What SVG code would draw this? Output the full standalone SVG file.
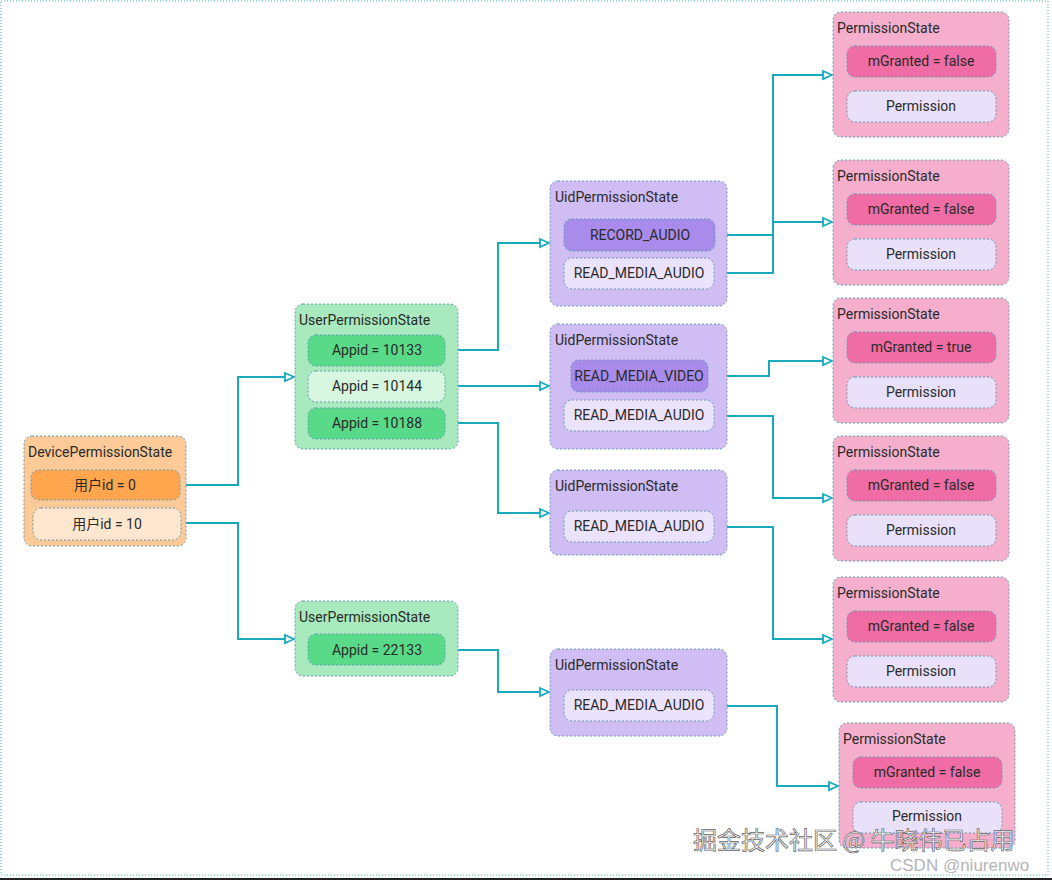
<svg xmlns="http://www.w3.org/2000/svg" width="1052" height="880" viewBox="0 0 1052 880">
<defs>
<style>
text{font-family:Roboto,"Liberation Sans","Noto Sans CJK SC",sans-serif;font-size:14px;fill:#2a2a2a}
.t{text-anchor:start}
.c{text-anchor:middle}
.bx{stroke:#5f9ab4;stroke-width:1;stroke-dasharray:2 2}
.dev{fill:#fdca98}.devA{fill:#ffa64e}.devB{fill:#ffe7cf}
.usr{fill:#a8e9bd}.usrA{fill:#58da88}.usrB{fill:#d6f6e0}
.uid{fill:#cfbdf3}.uidA{fill:#a88bea}.uidB{fill:#ebe3fb}
.prm{fill:#f5afcc}.prmA{fill:#ef6ca4}.prmB{fill:#e8e1f9}
.ln{fill:none;stroke:#17aabf;stroke-width:2}
</style>
<marker id="ar" markerWidth="12" markerHeight="12" refX="10" refY="5" orient="auto" markerUnits="userSpaceOnUse" viewBox="0 0 12 10">
<path d="M1,1 L10,5 L1,9 Z" fill="#fff" stroke="#17aabf" stroke-width="1.8"/>
</marker>
</defs>
<rect x="0" y="0" width="1052" height="880" fill="#fff"/>
<rect x="1" y="1" width="1047" height="874" fill="none" stroke="#3bb0b8" stroke-width="1" stroke-dasharray="1 2"/>
<line x1="0" y1="879" x2="1052" y2="879" stroke="#222" stroke-width="2"/>

<g id="connectors">
<path class="ln" d="M181,485 H238 V377 H294" marker-end="url(#ar)"/>
<path class="ln" d="M181,523 H238 V639 H294" marker-end="url(#ar)"/>
<path class="ln" d="M445,350 H498 V243 H549" marker-end="url(#ar)"/>
<path class="ln" d="M445,386 H549" marker-end="url(#ar)"/>
<path class="ln" d="M445,423 H498 V513 H549" marker-end="url(#ar)"/>
<path class="ln" d="M445,650 H498 V692 H549" marker-end="url(#ar)"/>
<path class="ln" d="M715,235 H773 V75 H832" marker-end="url(#ar)"/>
<path class="ln" d="M714,273 H773 V222 H832" marker-end="url(#ar)"/>
<path class="ln" d="M708,376 H769 V361 H832" marker-end="url(#ar)"/>
<path class="ln" d="M714,416 H773 V498 H832" marker-end="url(#ar)"/>
<path class="ln" d="M714,527 H773 V639 H832" marker-end="url(#ar)"/>
<path class="ln" d="M714,706 H777 V786 H838" marker-end="url(#ar)"/>
</g>

<g id="device">
<rect class="dev bx" x="24" y="436" width="162" height="110" rx="8"/>
<text class="t" x="28" y="457">DevicePermissionState</text>
<rect class="devA bx" x="31" y="470" width="149" height="30" rx="8"/>
<text class="c" x="105" y="490">用户id = 0</text>
<rect class="devB bx" x="33" y="508" width="148" height="32" rx="8"/>
<text class="c" x="107" y="529">用户id = 10</text>
</g>

<g id="user1">
<rect class="usr bx" x="295" y="304" width="163" height="145" rx="8"/>
<text class="t" x="299" y="325">UserPermissionState</text>
<rect class="usrA bx" x="308" y="335" width="137" height="31" rx="8"/>
<text class="c" x="377" y="355">Appid = 10133</text>
<rect class="usrB bx" x="308" y="371" width="137" height="31" rx="8"/>
<text class="c" x="377" y="391">Appid = 10144</text>
<rect class="usrA bx" x="308" y="408" width="137" height="31" rx="8"/>
<text class="c" x="377" y="428">Appid = 10188</text>
</g>

<g id="user2">
<rect class="usr bx" x="295" y="601" width="163" height="75" rx="8"/>
<text class="t" x="299" y="622">UserPermissionState</text>
<rect class="usrA bx" x="308" y="634" width="137" height="31" rx="8"/>
<text class="c" x="377" y="655">Appid = 22133</text>
</g>

<g id="uid1">
<rect class="uid bx" x="550" y="181" width="177" height="125" rx="8"/>
<text class="t" x="555" y="202">UidPermissionState</text>
<rect class="uidA bx" x="564" y="219" width="151" height="32" rx="8"/>
<text class="c" x="640" y="240">RECORD_AUDIO</text>
<rect class="uidB bx" x="564" y="258" width="150" height="31" rx="8"/>
<text class="c" x="639" y="278">READ_MEDIA_AUDIO</text>
</g>

<g id="uid2">
<rect class="uid bx" x="550" y="324" width="177" height="125" rx="8"/>
<text class="t" x="555" y="345">UidPermissionState</text>
<rect class="uidA bx" x="571" y="360" width="137" height="32" rx="8"/>
<text class="c" x="639" y="381">READ_MEDIA_VIDEO</text>
<rect class="uidB bx" x="564" y="400" width="150" height="31" rx="8"/>
<text class="c" x="639" y="420">READ_MEDIA_AUDIO</text>
</g>

<g id="uid3">
<rect class="uid bx" x="550" y="470" width="177" height="85" rx="8"/>
<text class="t" x="555" y="491">UidPermissionState</text>
<rect class="uidB bx" x="564" y="511" width="150" height="31" rx="8"/>
<text class="c" x="639" y="531">READ_MEDIA_AUDIO</text>
</g>

<g id="uid4">
<rect class="uid bx" x="550" y="649" width="177" height="87" rx="8"/>
<text class="t" x="555" y="670">UidPermissionState</text>
<rect class="uidB bx" x="564" y="690" width="150" height="31" rx="8"/>
<text class="c" x="639" y="710">READ_MEDIA_AUDIO</text>
</g>

<g id="perm1">
<rect class="prm bx" x="833" y="12" width="176" height="125" rx="8"/>
<text class="t" x="837" y="33">PermissionState</text>
<rect class="prmA bx" x="847" y="46" width="149" height="31" rx="8"/>
<text class="c" x="921" y="66">mGranted = false</text>
<rect class="prmB bx" x="847" y="91" width="149" height="31" rx="8"/>
<text class="c" x="921" y="111">Permission</text>
</g>

<g id="perm2">
<rect class="prm bx" x="833" y="160" width="176" height="125" rx="8"/>
<text class="t" x="837" y="181">PermissionState</text>
<rect class="prmA bx" x="847" y="194" width="149" height="31" rx="8"/>
<text class="c" x="921" y="214">mGranted = false</text>
<rect class="prmB bx" x="847" y="239" width="149" height="31" rx="8"/>
<text class="c" x="921" y="259">Permission</text>
</g>

<g id="perm3">
<rect class="prm bx" x="833" y="298" width="176" height="125" rx="8"/>
<text class="t" x="837" y="319">PermissionState</text>
<rect class="prmA bx" x="847" y="332" width="149" height="31" rx="8"/>
<text class="c" x="921" y="352">mGranted = true</text>
<rect class="prmB bx" x="847" y="377" width="149" height="31" rx="8"/>
<text class="c" x="921" y="397">Permission</text>
</g>

<g id="perm4">
<rect class="prm bx" x="833" y="436" width="176" height="125" rx="8"/>
<text class="t" x="837" y="457">PermissionState</text>
<rect class="prmA bx" x="847" y="470" width="149" height="31" rx="8"/>
<text class="c" x="921" y="490">mGranted = false</text>
<rect class="prmB bx" x="847" y="515" width="149" height="31" rx="8"/>
<text class="c" x="921" y="535">Permission</text>
</g>

<g id="perm5">
<rect class="prm bx" x="833" y="577" width="176" height="125" rx="8"/>
<text class="t" x="837" y="598">PermissionState</text>
<rect class="prmA bx" x="847" y="611" width="149" height="31" rx="8"/>
<text class="c" x="921" y="631">mGranted = false</text>
<rect class="prmB bx" x="847" y="656" width="149" height="31" rx="8"/>
<text class="c" x="921" y="676">Permission</text>
</g>

<g id="perm6">
<rect class="prm bx" x="839" y="723" width="176" height="125" rx="8"/>
<text class="t" x="843" y="744">PermissionState</text>
<rect class="prmA bx" x="853" y="757" width="149" height="31" rx="8"/>
<text class="c" x="927" y="777">mGranted = false</text>
<rect class="prmB bx" x="853" y="802" width="149" height="31" rx="8"/>
<text class="c" x="927" y="821">Permission</text>
</g>

<g id="watermark">
<text x="693" y="849" style="font-size:24px;fill:#fafafa;stroke:#666;stroke-width:0.7;font-family:'Noto Sans CJK SC','Liberation Sans',sans-serif">掘金技术社区 @ 牛晓伟已占用</text>
<text x="890" y="871" style="font-size:17px;fill:#b4b4b4;font-family:'Liberation Sans',Arial,sans-serif">CSDN @niurenwo</text>
</g>
</svg>
